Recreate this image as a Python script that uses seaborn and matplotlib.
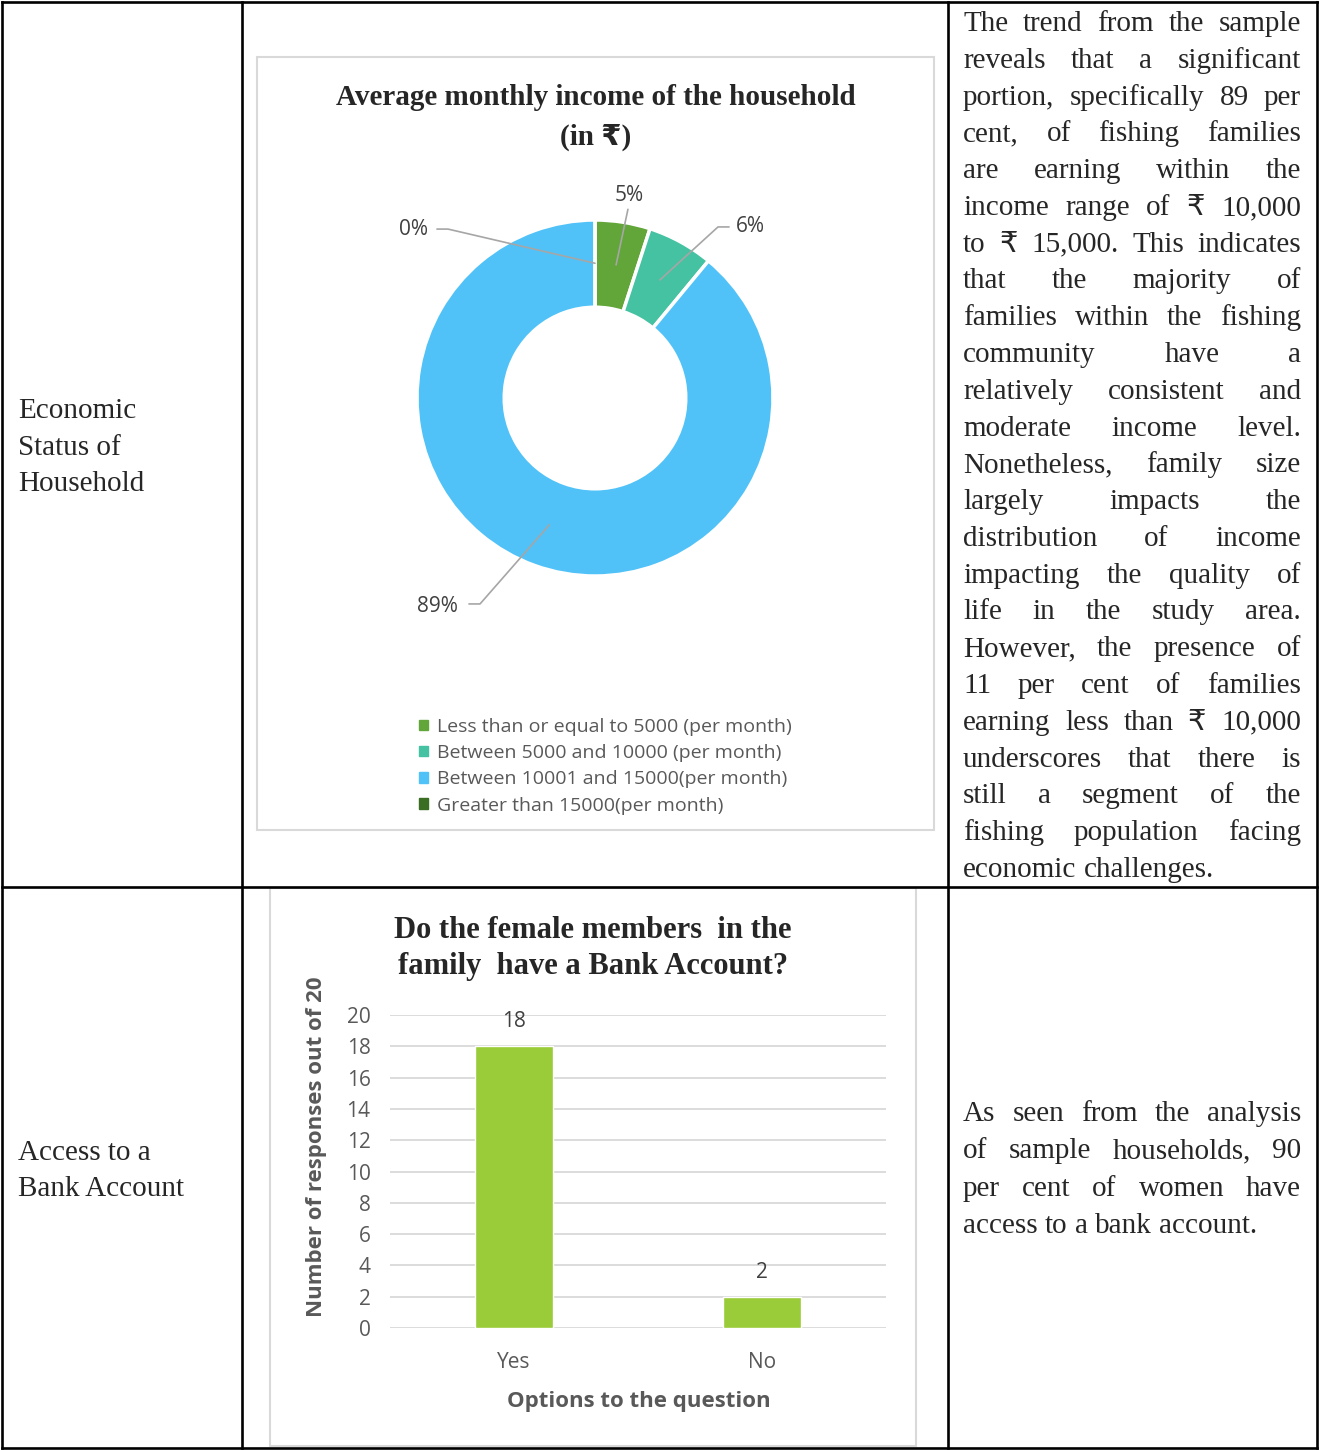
import numpy as np
import matplotlib.pyplot as plt
import seaborn as sns
from matplotlib.patches import Patch, Rectangle

# chart data
income_bands = ['Less than or equal to 5000 (per month)',
                'Between 5000 and 10000 (per month)',
                'Between 10001 and 15000(per month)',
                'Greater than 15000(per month)']
income_share = [5, 6, 89, 0]
income_colors = ['#62a539', '#45c2a2', '#50c2f8', '#3b6d22']

answer_options = ['Yes', 'No']
response_counts = [18, 2]
bar_color = '#9acb38'

# table text
row_label_income = ['Economic', 'Status of', 'Household']
row_label_bank = ['Access to a', 'Bank Account']

note_income = ['The trend from the sample',
               'reveals that a significant',
               'portion, specifically 89 per',
               'cent, of fishing families',
               'are earning within the',
               'income range of ₹ 10,000',
               'to ₹ 15,000. This indicates',
               'that the majority of',
               'families within the fishing',
               'community have a',
               'relatively consistent and',
               'moderate income level.',
               'Nonetheless, family size',
               'largely impacts the',
               'distribution of income',
               'impacting the quality of',
               'life in the study area.',
               'However, the presence of',
               '11 per cent of families',
               'earning less than ₹ 10,000',
               'underscores that there is',
               'still a segment of the',
               'fishing population facing',
               'economic challenges.']
note_bank = ['As seen from the analysis',
             'of sample households, 90',
             'per cent of women have',
             'access to a bank account.']

W, H = 1319, 1450
SERIF = ['Liberation Serif', 'DejaVu Sans']
GREY = '#595959'

sns.set_theme(style='white')
plt.rcParams['font.family'] = ['Open Sans', 'DejaVu Sans']

fig = plt.figure(figsize=(W / 100, H / 100), dpi=100)
bg = fig.add_axes([0, 0, 1, 1])
bg.set_xlim(0, W)
bg.set_ylim(H, 0)
bg.axis('off')


def px_axes(x0, y0, x1, y1):
    return fig.add_axes([x0 / W, 1 - y1 / H, (x1 - x0) / W, (y1 - y0) / H])


# table grid
for x in [2, 242, 948, 1317]:
    bg.plot([x, x], [2, 1448], color='black', lw=1.9, solid_capstyle='projecting')
for y in [2, 887, 1448]:
    bg.plot([2, 1317], [y, y], color='black', lw=1.9, solid_capstyle='projecting')

# chart frames
bg.add_patch(Rectangle((257, 57), 677, 773, fill=False, ec='#d9d9d9', lw=1.5))
bg.add_patch(Rectangle((270, 888), 646, 558, fill=False, ec='#d9d9d9', lw=1.5))

# row labels
for i, s in enumerate(row_label_income):
    bg.text(18, 418 + i * 36.5, s, family=SERIF, fontsize=21, va='baseline')
for i, s in enumerate(row_label_bank):
    bg.text(18, 1160 + i * 36.5, s, family=SERIF, fontsize=21, va='baseline')

renderer = fig.canvas.get_renderer()


def justified(lines, x0, x1, y0, step):
    for i, line in enumerate(lines):
        words = line.split(' ')
        y = y0 + i * step
        arts = [bg.text(0, y, w, family=SERIF, fontsize=21, va='baseline') for w in words]
        widths = [a.get_window_extent(renderer).width for a in arts]
        if i == len(lines) - 1:
            gap = 7.3
        else:
            gap = (x1 - x0 - sum(widths)) / (len(words) - 1)
        x = x0
        for a, w in zip(arts, widths):
            a.set_x(x)
            x += w + gap


justified(note_income, 963, 1301, 31, 36.78)
justified(note_bank, 963, 1301, 1121, 37.3)

# donut chart
bg.text(596, 105, 'Average monthly income of the household', family=SERIF,
        fontsize=21, fontweight='bold', ha='center', va='baseline')
bg.text(596, 145, '(in ₹)', family=SERIF, fontsize=21, fontweight='bold',
        ha='center', va='baseline')

cx, cy, R = 595, 398, 178
ax1 = px_axes(cx - 1.6 * R, cy - 1.6 * R, cx + 1.6 * R, cy + 1.6 * R)
wedges, _ = ax1.pie(income_share, colors=income_colors, startangle=90,
                    counterclock=False,
                    wedgeprops=dict(width=0.49, edgecolor='white', linewidth=2.5))
ax1.set_xlim(-1.6, 1.6)
ax1.set_ylim(-1.6, 1.6)
ax1.axis('off')

# label placement (text position, elbow start, elbow end) in radius units
label_layout = [
    ((0.19, 1.14), None, (0.185, 1.06)),
    ((0.875, 0.961), (0.753, 0.961), (0.691, 0.961)),
    ((-0.885, -1.17), (-0.708, -1.157), (-0.646, -1.157)),
    ((-1.02, 0.946), (-0.888, 0.949), (-0.826, 0.949)),
]
for w, v, (txy, e0, e1) in zip(wedges, income_share, label_layout):
    mid = np.deg2rad((w.theta1 + w.theta2) / 2)
    anchor = (0.757 * np.cos(mid), 0.757 * np.sin(mid))
    pts = [p for p in (e0, e1) if p is not None] + [anchor]
    ax1.plot([p[0] for p in pts], [p[1] for p in pts], color='#a6a6a6', lw=1.2)
    ax1.text(txy[0], txy[1], f'{v}%', fontsize=15, color='#404040',
             ha='center', va='center')

handles = [Patch(color=c) for c in income_colors]
fig.legend(handles, income_bands, loc='upper left',
           bbox_to_anchor=(419 / W, 1 - 718 / H), frameon=False, fontsize=14,
           labelcolor=GREY, handlelength=0.45, handleheight=0.45,
           handletextpad=0.5, labelspacing=0.42, borderpad=0, borderaxespad=0)

# bar chart
bg.text(593, 938, 'Do the female members  in the', family=SERIF, fontsize=22,
        fontweight='bold', ha='center', va='baseline')
bg.text(593, 974, 'family  have a Bank Account?', family=SERIF, fontsize=22,
        fontweight='bold', ha='center', va='baseline')

ax2 = px_axes(390, 1015, 886, 1328)
sns.barplot(x=answer_options, y=response_counts, color=bar_color, saturation=1,
            width=0.315, ax=ax2, zorder=3)
ax2.set_xlim(-0.5, 1.5)
ax2.set_ylim(0, 20)
ax2.set_yticks(range(0, 21, 2))
ax2.yaxis.grid(True, color='#d9d9d9', lw=1.3)
ax2.set_axisbelow(True)
sns.despine(ax=ax2, left=True, bottom=True)
ax2.tick_params(length=0, labelsize=15, labelcolor=GREY)
ax2.tick_params(axis='x', pad=17)
ax2.tick_params(axis='y', pad=14)
for c in ax2.containers:
    ax2.bar_label(c, fmt='%d', padding=10, fontsize=15, color='#404040')
ax2.set_xlabel('Options to the question', fontsize=16, fontweight='bold', color=GREY)
ax2.set_ylabel('Number of responses out of 20', fontsize=16, fontweight='bold', color=GREY)
ax2.xaxis.set_label_coords(0.501, -0.201)
ax2.yaxis.set_label_coords(-0.128, 0.58)

fig.savefig('out.png', dpi=100)
